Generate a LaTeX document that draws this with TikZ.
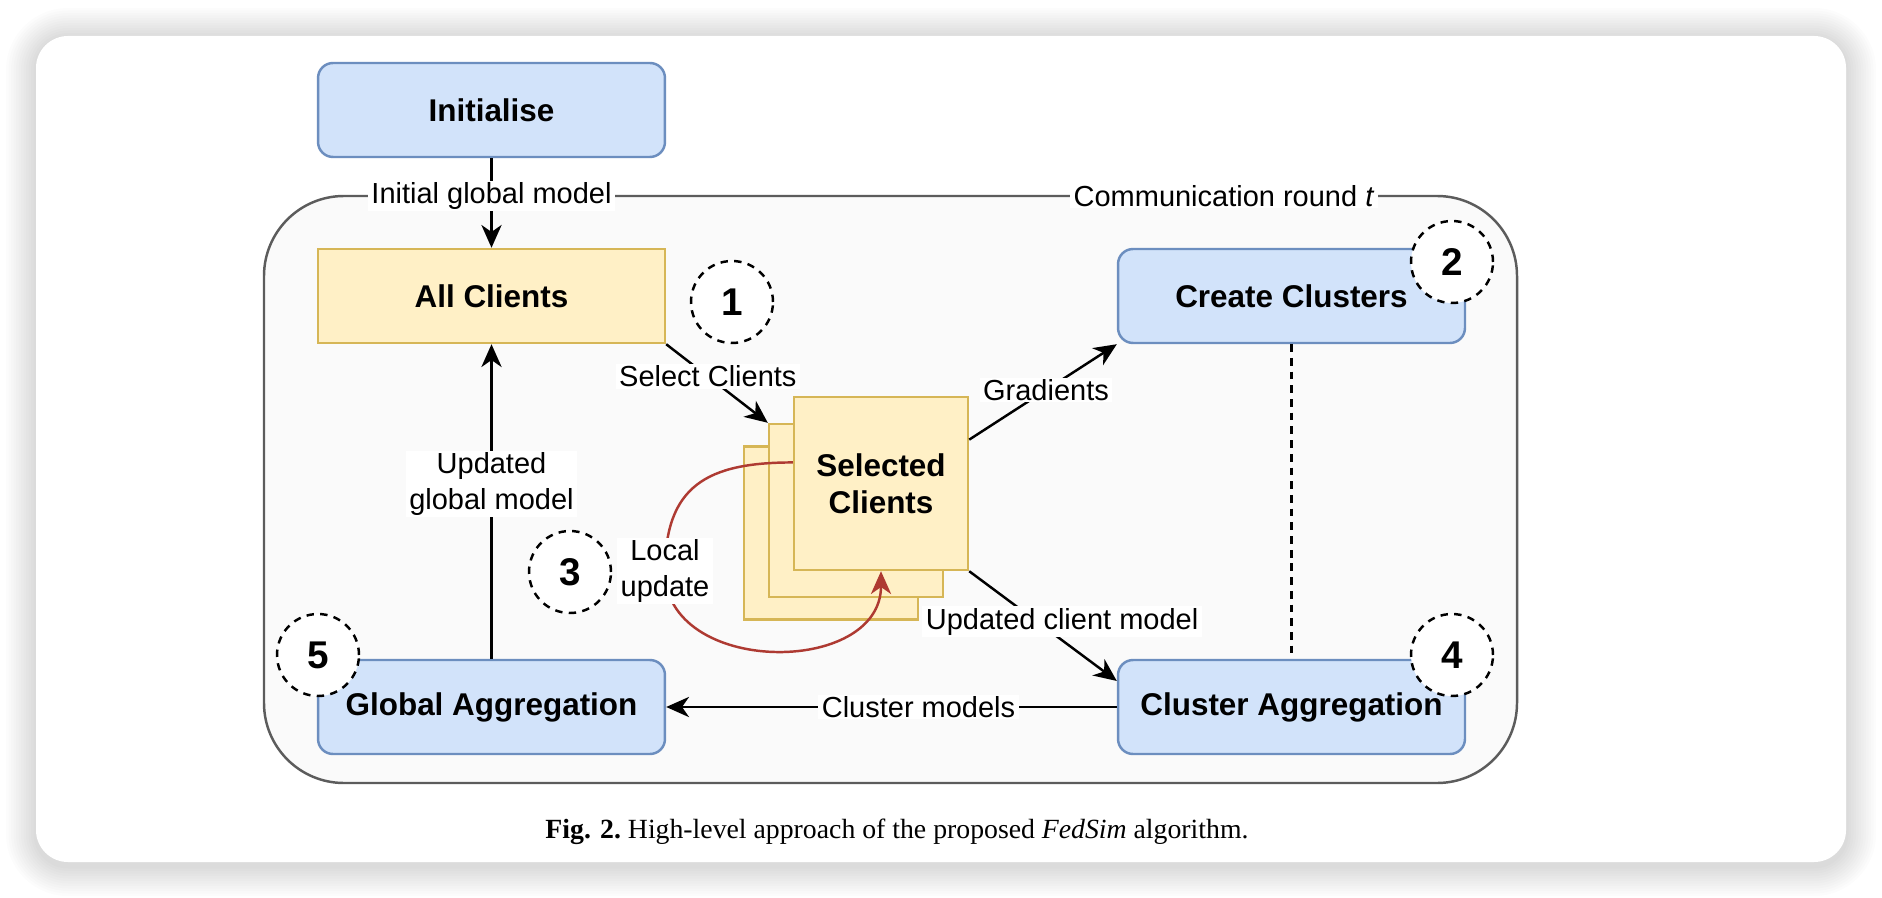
\documentclass[tikz,border=0pt]{standalone}
\usepackage{fontspec}
\usepackage{tikz}
\usetikzlibrary{arrows.meta, calc}

\newfontfamily\diagfont{Liberation Sans}
\newfontfamily\capfont{Liberation Serif}

\definecolor{blueline}{HTML}{6C8EBF}
\definecolor{bluefill}{HTML}{D2E3FA}
\definecolor{yellowline}{HTML}{D6B656}
\definecolor{yellowfill}{HTML}{FFF0C6}
\definecolor{roundline}{HTML}{5C5C5C}
\definecolor{roundfill}{HTML}{FAFAFA}
\definecolor{updatered}{HTML}{AE3A32}

\tikzset{
    stagebox/.style={rectangle, rounded corners=0.3cm, draw=blueline, fill=bluefill, line width=1.4pt,
        minimum width=6.94cm, minimum height=1.88cm, inner sep=0pt,
        font=\diagfont\bfseries\fontsize{17.9}{21}\selectfont},
    clientbox/.style={rectangle, draw=yellowline, fill=yellowfill, line width=1.4pt, inner sep=0pt,
        align=center, font=\diagfont\bfseries\fontsize{17.9}{21}\selectfont},
    clientcard/.style={clientbox, minimum width=3.48cm, minimum height=3.46cm},
    stepno/.style={circle, draw, line width=1.4pt, dash pattern=on 4.2pt off 3.6pt, fill=white,
        minimum size=1.64cm, inner sep=0pt, font=\diagfont\bfseries\fontsize{22}{26}\selectfont},
    edgelabel/.style={fill=white, text=black, inner xsep=2pt, inner ysep=1pt, align=center,
        font=\diagfont\fontsize{16.5}{20.5}\selectfont},
    flow/.style={-{Stealth[length=13pt, width=11.5pt, inset=4pt]}, line width=1.4pt},
}

\begin{document}
\begin{tikzpicture}[x=0.02cm, y=-0.02cm]
    \useasboundingbox (0, 0) rectangle (1882, 898);

    % card and its shadow
    \foreach \s [evaluate=\s as \rad using 0.64+0.05*\s] in {1,...,12}
        \fill[black, opacity=0.012, rounded corners=\rad cm] (36-2.5*\s, 38-2.5*\s) rectangle (1846+2.5*\s, 866+2.5*\s);
    \fill[white, rounded corners=0.64cm] (36, 36) rectangle (1846, 862);

    % communication round
    \draw[roundline, fill=roundfill, line width=1.4pt, rounded corners=1.6cm] (264, 196) rectangle (1517, 783);
    \node[edgelabel] (round) at (1224, 196) {Communication round \textit{t}};

    \node[stagebox] (init) at (491.5, 110) {Initialise};
    \node[clientbox, minimum width=6.94cm, minimum height=1.88cm] (all) at (491.5, 296) {All Clients};
    \node[stagebox] (create) at (1291.5, 296) {Create Clusters};
    \node[stagebox] (clagg) at (1291.5, 707) {Cluster Aggregation};
    \node[stagebox] (glagg) at (491.5, 707) {Global Aggregation};

    \node[clientcard] (back) at (831, 533) {};
    \node[clientcard] (mid) at (856, 510.5) {};
    \node[clientcard] (front) at (881, 483.5) {Selected\\Clients};

    \draw[flow] (init) -- node[edgelabel, pos=0.42] {Initial global model} (all);
    \draw[flow] (all.south east) -- node[edgelabel, pos=0.41] {Select Clients} (mid.north west);
    \draw[flow] ($(front.north east)!0.25!(front.south east)$) -- node[edgelabel, pos=0.52] {Gradients} (create.south west);
    \draw[flow] (front.south east) -- node[edgelabel, pos=0.46, xshift=0.5cm] {Updated client model} ($(clagg.north west)!0.23!(clagg.south west)$);
    \draw[flow] (clagg) -- node[edgelabel, pos=0.44] {Cluster models} (glagg);
    \draw[flow] (glagg) -- node[edgelabel, pos=0.555] {Updated\\global model} (all);
    \draw[line width=1.4pt, dash pattern=on 4.4pt off 3.4pt] (create) -- (clagg);

    % local update loop
    \coordinate (lu) at (665, 571);
    \draw[flow, updatered] ($(front.north west)!0.38!(front.south west)$) to[out=180, in=90, looseness=1.3] (lu)
        node[edgelabel] {Local\\update} to[out=-90, in=-90, looseness=1.25] (front.south);

    \node[stepno] (one) at (732, 302) {1};
    \node[stepno] (two) at (1452, 262) {2};
    \node[stepno] (three) at (570, 572) {3};
    \node[stepno] (four) at (1452, 655) {4};
    \node[stepno] (five) at (318, 655) {5};

    \node[font=\capfont\fontsize{15.8}{19}\selectfont] (caption) at (897, 832)
        {\textbf{Fig. 2.}\ High-level approach of the proposed \textit{FedSim} algorithm.};
\end{tikzpicture}
\end{document}
